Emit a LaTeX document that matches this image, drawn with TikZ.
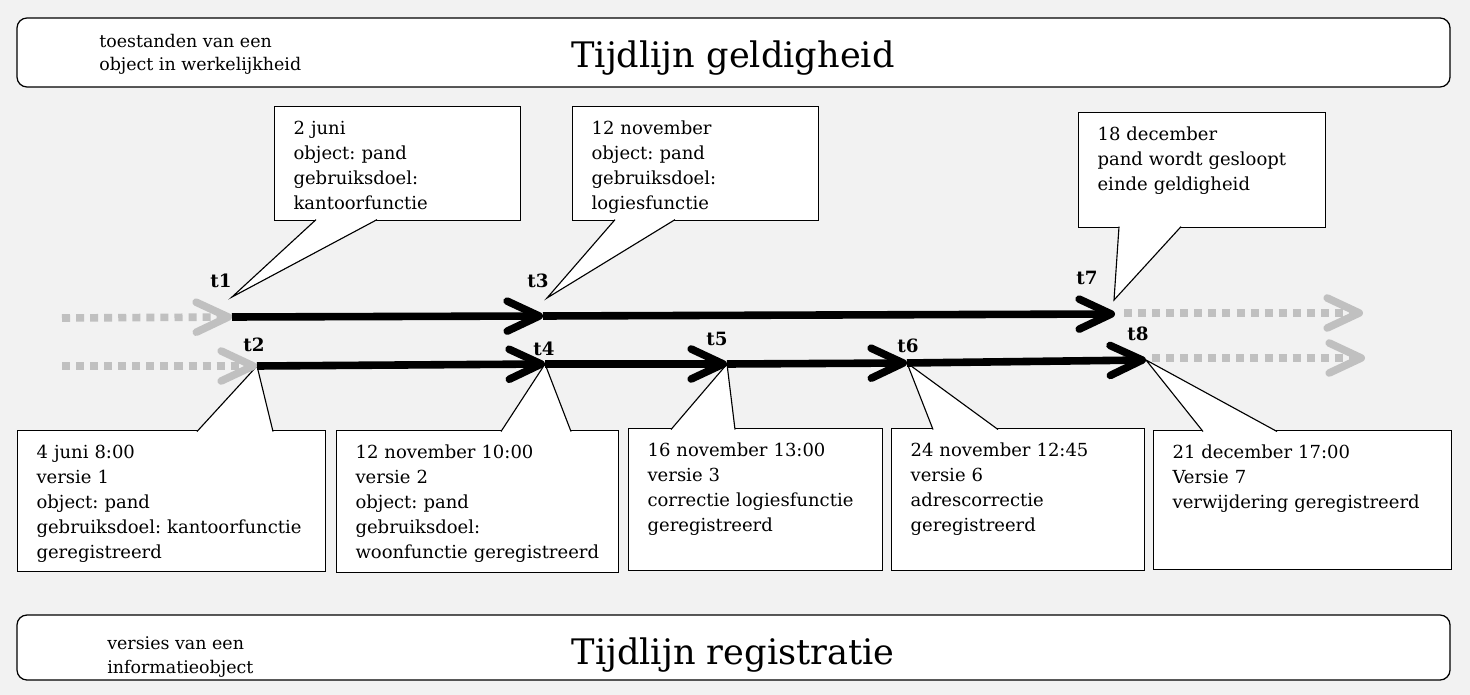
\documentclass[tikz,border=0pt]{standalone}
\usepackage{fontspec}
\setmainfont{DejaVu Serif}
\frenchspacing
\usetikzlibrary{arrows.meta,calc}
\definecolor{achtergrond}{HTML}{F2F2F2}
\definecolor{grijs}{HTML}{C0C0C0}

\tikzset{
  banier/.style={draw, fill=white, rounded corners=0.25cm, line width=0.9pt},
  baniertekst/.style={anchor=west, align=left, inner sep=0pt, font=\fontsize{12.4}{16.4}\selectfont},
  titel/.style={inner sep=0pt, font=\fontsize{25}{30}\selectfont},
  blok/.style={draw, fill=white, line width=0.8pt, anchor=north west, align=left,
    inner xsep=0.475cm, inner ysep=0.3cm, text height=0.4cm,
    font=\fontsize{12.8}{17.8}\selectfont},
  staart/.style={draw, fill=white, line width=0.8pt},
  tijd/.style={line width=5.4pt, -{Straight Barb[length=0.8cm,width=0.75cm,round]}},
  stip/.style={tijd, grijs, dash pattern=on 5.7pt off 4.3pt},
  tlabel/.style={inner sep=0pt, font=\fontsize{13}{15}\selectfont\bfseries}
}

\begin{document}
\begin{tikzpicture}[x=0.025cm, y=-0.025cm]

  \fill[achtergrond] (0,0) rectangle (1470,695);
  \useasboundingbox (0,0) rectangle (1470,695);

  % banieren boven en onder
  \draw[banier] (17,18) rectangle (1450,87);
  \node[baniertekst] (uitleg1) at (99,54) {toestanden van een\\object in werkelijkheid};
  \node[titel] (geldig) at (733,58) {Tijdlijn geldigheid};

  \draw[banier] (17,615) rectangle (1450,680);
  \node[baniertekst] (uitleg2) at (107,657) {versies van een\\informatieobject};
  \node[titel] (registr) at (733,655) {Tijdlijn registratie};

  % tijdstippen
  \coordinate (t1) at (232,317);
  \coordinate (t3) at (543,316);
  \coordinate (t7) at (1115,314);
  \coordinate (t2) at (257,366);
  \coordinate (t4) at (545,364);
  \coordinate (t5) at (727,364);
  \coordinate (t6) at (907,363);
  \coordinate (t8) at (1146,360);

  \coordinate (a1) at (232,297);
  \coordinate (a3) at (547,298);
  \coordinate (a7) at (1114,300);

  % wolkjes geldigheid
  \node[blok, text width=5.2cm, text depth=1.85cm] (c1) at (274,106)
    {2 juni\\object: pand\\gebruiksdoel:\\kantoorfunctie};
  \filldraw[staart] ($(c1.south west)+(42,-1.5)$) -- (a1) -- ($(c1.south west)+(103,-1.5)$);

  \node[blok, text width=5.2cm, text depth=1.85cm] (c3) at (572,106)
    {12 november\\object: pand\\gebruiksdoel:\\logiesfunctie};
  \filldraw[staart] ($(c3.south west)+(43,-1.5)$) -- (a3) -- ($(c3.south west)+(103,-1.5)$);

  \node[blok, text width=5.225cm, text depth=1.875cm] (c7) at (1078,112)
    {18 december\\pand wordt gesloopt\\einde geldigheid};
  \filldraw[staart] ($(c7.south west)+(41,-1.5)$) -- (a7) -- ($(c7.south west)+(103,-1.5)$);

  % wolkjes registratie
  \node[blok, text width=6.75cm, text depth=2.525cm] (c2) at (17,430)
    {4 juni 8:00\\versie 1\\object: pand\\gebruiksdoel: kantoorfunctie\\geregistreerd};
  \filldraw[staart] ($(c2.north west)+(180,1.5)$) -- (t2) -- ($(c2.north west)+(256,1.5)$);

  \node[blok, text width=6.1cm, text depth=2.55cm] (c4) at (336,430)
    {12 november 10:00\\versie 2\\object: pand\\gebruiksdoel:\\woonfunctie geregistreerd};
  \filldraw[staart] ($(c4.north west)+(165,1.5)$) -- (t4) -- ($(c4.north west)+(235,1.5)$);

  \node[blok, text width=5.4cm, text depth=2.55cm] (c5) at (628,428)
    {16 november 13:00\\versie 3\\correctie logiesfunctie\\geregistreerd};
  \filldraw[staart] ($(c5.north west)+(43,1.5)$) -- (t5) -- ($(c5.north west)+(107,1.5)$);

  \node[blok, text width=5.375cm, text depth=2.55cm] (c6) at (891,428)
    {24 november 12:45\\versie 6\\adrescorrectie\\geregistreerd};
  \filldraw[staart] ($(c6.north west)+(42,1.5)$) -- (t6) -- ($(c6.north west)+(107,1.5)$);

  \node[blok, text width=6.5cm, text depth=2.475cm] (c8) at (1153,430)
    {21 december 17:00\\Versie 7\\verwijdering geregistreerd};
  \filldraw[staart] ($(c8.north west)+(50,1.5)$) -- (t8) -- ($(c8.north west)+(124,1.5)$);

  % tijdlijnen
  \coordinate (g1) at (62,318);
  \coordinate (g2) at (62,366);
  \coordinate (g3) at (1124,313);
  \coordinate (g4) at (1363,313);
  \coordinate (g5) at (1152,358);
  \coordinate (g6) at (1365,358);

  \draw[stip] (g1) -- (t1);
  \draw[tijd] (t1) -- (t3);
  \draw[tijd] (t3) -- (t7);
  \draw[stip] (g3) -- (g4);

  \draw[stip] (g2) -- (t2);
  \draw[tijd] (t2) -- (t4);
  \draw[tijd] (t4) -- (t5);
  \draw[tijd] (t5) -- (t6);
  \draw[tijd] (t6) -- (t8);
  \draw[stip] (g5) -- (g6);

  \node[tlabel] (l1) at (221,281) {t1};
  \node[tlabel] (l2) at (254,345) {t2};
  \node[tlabel] (l3) at (538,281) {t3};
  \node[tlabel] (l4) at (544,349) {t4};
  \node[tlabel] (l5) at (717,339) {t5};
  \node[tlabel] (l6) at (908,346) {t6};
  \node[tlabel] (l7) at (1087,278) {t7};
  \node[tlabel] (l8) at (1138,334) {t8};

\end{tikzpicture}
\end{document}
